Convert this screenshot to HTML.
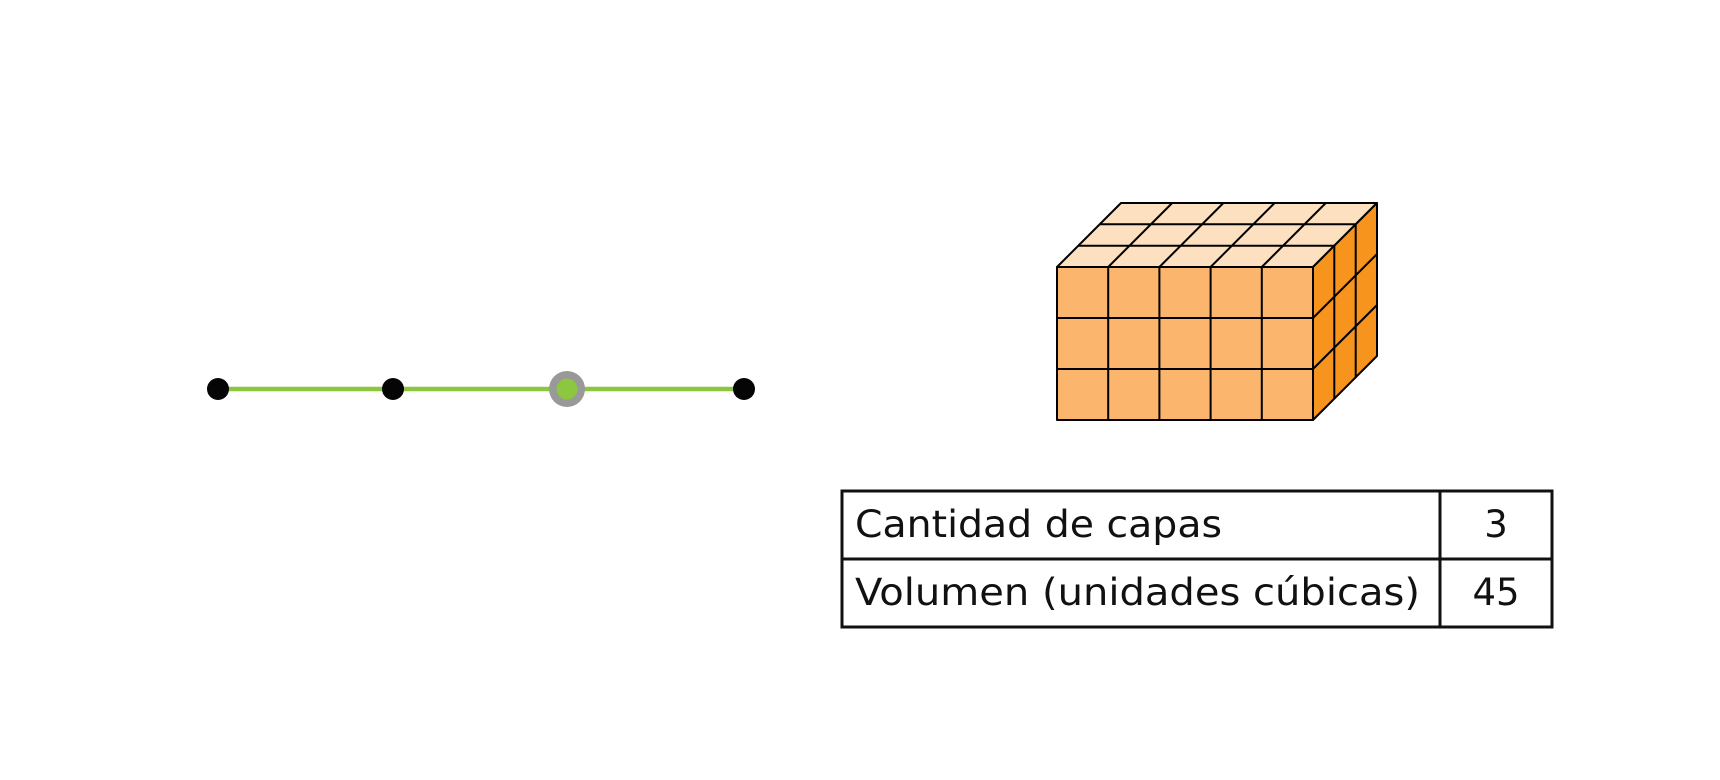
<!DOCTYPE html>
<html><head><meta charset="utf-8"><style>
html,body{margin:0;padding:0;background:#fff;width:1720px;height:780px;overflow:hidden}
</style></head><body>
<svg width="1720" height="780" xmlns="http://www.w3.org/2000/svg">
<line x1="218" y1="389" x2="744" y2="389" stroke="#8cc63e" stroke-width="4.5"/>
<circle cx="218" cy="389" r="11" fill="#050505"/>
<circle cx="393" cy="389" r="11" fill="#050505"/>
<circle cx="567" cy="389" r="18" fill="#999"/>
<circle cx="567" cy="389" r="10.5" fill="#8dc63f"/>
<circle cx="744" cy="389" r="11" fill="#050505"/>
<g stroke="#000" stroke-width="2" stroke-linejoin="round">
<polygon points="1057,267 1313,267 1377,203 1121,203" fill="#fde0c0"/>
<polygon points="1313,267 1377,203 1377,356 1313,420" fill="#f7941d"/>
<rect x="1057" y="267" width="256" height="153" fill="#fbb56c"/>
<path d="M1108.2,267V420M1159.4,267V420M1210.6,267V420M1261.8,267V420M1057,318H1313M1057,369H1313" fill="none"/>
<path d="M1078.3,245.7H1334.3M1099.7,224.3H1355.7M1108.2,267L1172.2,203M1159.4,267L1223.4,203M1210.6,267L1274.6,203M1261.8,267L1325.8,203" fill="none"/>
<path d="M1334.3,245.7V398.7M1355.7,224.3V377.3M1313,318L1377,254M1313,369L1377,305" fill="none"/>
</g>
<g fill="none" stroke="#111" stroke-width="3">
<rect x="842" y="491" width="710" height="136"/>
<line x1="842" y1="559" x2="1552" y2="559"/>
<line x1="1440" y1="491" x2="1440" y2="627"/>
</g>
<g font-family="'DejaVu Sans','Liberation Sans',sans-serif" font-size="37" fill="#111">
<text x="855" y="537" textLength="367" lengthAdjust="spacingAndGlyphs">Cantidad de capas</text>
<text x="855" y="605" textLength="565" lengthAdjust="spacingAndGlyphs">Volumen (unidades cúbicas)</text>
<text x="1496" y="537" text-anchor="middle">3</text>
<text x="1496" y="605" text-anchor="middle">45</text>
</g>
</svg>
</body></html>
